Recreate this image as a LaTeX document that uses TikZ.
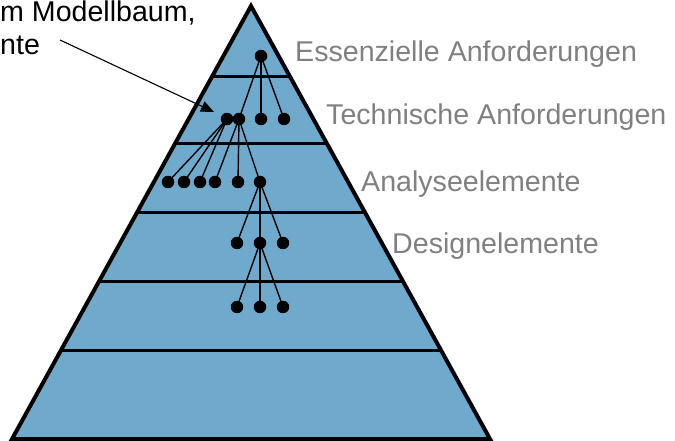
\documentclass[tikz,border=0pt]{standalone}
\usepackage{fontspec}
\setmainfont{Liberation Sans}
\usetikzlibrary{calc,arrows.meta}
\pgfdeclarelayer{bg}
\pgfdeclarelayer{edges}
\pgfsetlayers{bg,edges,main}
\definecolor{pyrblue}{RGB}{111,170,205}
\definecolor{lblgray}{RGB}{128,128,128}
\tikzset{
  dot/.style={circle,fill=black,inner sep=0pt,minimum size=12.5pt},
  link/.style={line width=1.4pt,black},
  band/.style={line width=3pt,black},
  lbl/.style={anchor=base west,inner sep=0pt,text=lblgray,font=\fontsize{28.6pt}{34pt}\selectfont},
  note/.style={anchor=base west,inner sep=0pt,text height=20.5pt,text depth=5pt,text=black,font=\fontsize{28.6pt}{34pt}\selectfont},
  pointer/.style={line width=1.1pt,-{Triangle[length=13pt,width=11pt]}}
}
\begin{document}
\begin{tikzpicture}[x=1pt,y=-1pt]
\useasboundingbox (0,0) rectangle (675,441);
\coordinate (A) at (251,6);
\coordinate (L) at (12,439);
\coordinate (R) at (490,439);
\begin{pgfonlayer}{bg}
\fill[pyrblue] (A) -- (L) -- (R) -- cycle;
\foreach \t in {0.1617,0.3187,0.4780,0.6374,0.7945}{
  \draw[band] ($(A)!\t!(L)$) -- ($(A)!\t!(R)$);
}
\draw[line width=4pt,line join=miter] (A) -- (L) -- (R) -- cycle;
\end{pgfonlayer}
% dots
\node[dot] (t) at (261,56) {};
\node[dot] (a1) at (227,119) {};
\node[dot] (a2) at (239,119) {};
\node[dot] (a3) at (261,119) {};
\node[dot] (a4) at (284,119) {};
\node[dot] (b1) at (168,182) {};
\node[dot] (b2) at (184,182) {};
\node[dot] (b3) at (200,182) {};
\node[dot] (b4) at (215,182) {};
\node[dot] (b5) at (238,182) {};
\node[dot] (b6) at (260,182) {};
\node[dot] (c1) at (237,243) {};
\node[dot] (c2) at (260,243) {};
\node[dot] (c3) at (283,243) {};
\node[dot] (d1) at (237,307) {};
\node[dot] (d2) at (260,307) {};
\node[dot] (d3) at (283,307) {};
\begin{pgfonlayer}{edges}
\foreach \s/\e in {t/a2,t/a3,t/a4,a1/b1,a1/b2,a1/b3,a2/b4,a2/b5,a2/b6,b6/c1,b6/c2,b6/c3,c2/d1,c2/d2,c2/d3}{
  \draw[link] (\s.center) -- (\e.center);
}
\end{pgfonlayer}
% labels
\node[lbl] (l1) at (295,62) {Essenzielle Anforderungen};
\node[lbl] (l2) at (326,125) {Technische Anforderungen};
\node[lbl] (l3) at (361,191) {Analyseelemente};
\node[lbl] (l4) at (392,253) {Designelemente};
% note
\node[note] (n1) at (0,22) {m Modellbaum,};
\node[note] (n2) at (0,55) {nte};
\coordinate (p0) at (60,40);
\coordinate (p1) at (214,112);
\draw[pointer] (p0) -- (p1);
\end{tikzpicture}
\end{document}
